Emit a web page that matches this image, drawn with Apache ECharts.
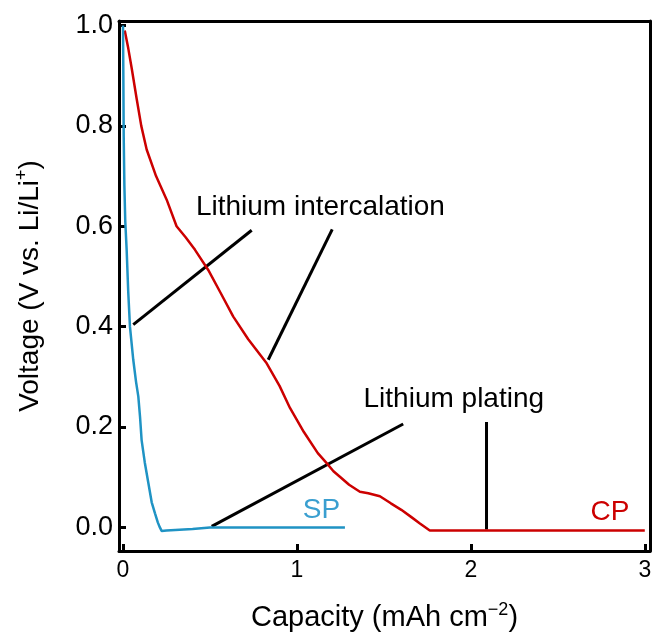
<!DOCTYPE html>
<html><head><meta charset="utf-8">
<script src="https://cdn.jsdelivr.net/npm/echarts@6/dist/echarts.min.js"></script>
<style>html,body{margin:0;padding:0;background:#fff}#c{width:657px;height:639px}</style>
</head><body><div id="c"></div>
<script>
// Data
var spX = [0.0, 0.002, 0.004, 0.008, 0.013, 0.021, 0.03, 0.04, 0.059, 0.075, 0.088, 0.098, 0.107, 0.125, 0.146, 0.165, 0.184, 0.2, 0.212, 0.222, 0.25, 0.3, 0.4, 0.5, 0.7, 0.9, 1.1, 1.276];
var spY = [1.0, 0.9, 0.78, 0.68, 0.61, 0.553, 0.47, 0.40, 0.334, 0.29, 0.261, 0.22, 0.174, 0.13, 0.088, 0.05, 0.028, 0.01, 0.0, -0.007, -0.006, -0.005, -0.003, 0.0, 0.0, 0.0, 0.0, 0.0];
var cpX = [0.01, 0.03, 0.05, 0.079, 0.105, 0.136, 0.19, 0.251, 0.308, 0.36, 0.414, 0.49, 0.56, 0.634, 0.72, 0.826, 0.9, 0.96, 1.04, 1.12, 1.171, 1.21, 1.247, 1.3, 1.362, 1.41, 1.477, 1.54, 1.6, 1.66, 1.707, 1.764, 2.0, 2.5, 3.0];
var cpY = [0.99, 0.955, 0.915, 0.853, 0.80, 0.753, 0.70, 0.653, 0.600, 0.578, 0.553, 0.513, 0.468, 0.42, 0.375, 0.327, 0.282, 0.238, 0.19, 0.148, 0.128, 0.112, 0.101, 0.085, 0.071, 0.068, 0.062, 0.048, 0.035, 0.02, 0.008, -0.006, -0.006, -0.006, -0.006];
var xTicks = [0, 1, 2, 3];
var yTicks = [0.0, 0.2, 0.4, 0.6, 0.8, 1.0];
// annotation leader lines: [x1, y1, x2, y2]
var leader1 = [0.059, 0.404, 0.74, 0.592];
var leader2 = [0.835, 0.334, 1.203, 0.594];
var leader3 = [0.51, 0.002, 1.611, 0.206];
var leader4 = [2.09, -0.004, 2.09, 0.21];
var labelTexts = ['Lithium intercalation', 'Lithium plating', 'SP', 'CP'];
var labelPos = [[1.135, 0.638], [1.902, 0.255], [1.141, 0.035], [2.8, 0.031]];

function pairs(xs, ys) { return xs.map(function (x, i) { return [x, ys[i]]; }); }
function seg(a) { return [[a[0], a[1]], [a[2], a[3]]]; }

var FONT = '"Liberation Sans", Arial, Helvetica, sans-serif';
var RED = '#cc0000', BLUE = '#1f93c4', BLUE_TXT = '#3a9fd0';
var labelColors = ['#000', '#000', BLUE_TXT, RED];

var chart = echarts.init(document.getElementById('c'), null, {renderer: 'canvas'});
var leaderSeries = [leader1, leader2, leader3, leader4].map(function (l) {
  return {type: 'line', data: seg(l), symbol: 'none', silent: true, z: 3,
          lineStyle: {color: '#000', width: 3}};
});

chart.setOption({
  animation: false,
  backgroundColor: '#fff',
  grid: {left: 119, right: 7, top: 21, bottom: 88},
  xAxis: [{
    type: 'value', min: -0.023, max: 3.03,
    name: 'Capacity (mAh cm{sup|\u22122})', nameLocation: 'middle', nameGap: 50,
    nameMoveOverlap: false,
    nameTextStyle: {fontSize: 29, fontFamily: FONT, color: '#000',
      rich: {sup: {fontSize: 18, fontFamily: FONT, color: '#000', padding: [0, 0, 16, 0]}}},
    axisLine: {onZero: false, lineStyle: {color: '#000', width: 3}},
    axisTick: {show: true, inside: true, length: 7, customValues: xTicks, lineStyle: {width: 3, color: '#000'}},
    axisLabel: {customValues: xTicks, fontSize: 23, fontFamily: FONT, color: '#000', margin: 8,
      formatter: function (v) { return String(v); }},
    splitLine: {show: false}
  }, {
    type: 'value', position: 'top', min: -0.023, max: 3.03,
    axisLine: {show: true, onZero: false, lineStyle: {color: '#000', width: 3}},
    axisTick: {show: false}, axisLabel: {show: false}, splitLine: {show: false}
  }],
  yAxis: [{
    type: 'value', min: -0.047, max: 1.009,
    name: 'Voltage (V vs. Li/Li{sup|+})', nameLocation: 'middle', nameGap: 72,
    nameMoveOverlap: false,
    nameTextStyle: {fontSize: 28, fontFamily: FONT, color: '#000',
      rich: {sup: {fontSize: 18, fontFamily: FONT, color: '#000', padding: [0, 0, 16, 0]}}},
    axisLine: {show: true, onZero: false, lineStyle: {color: '#000', width: 3}},
    axisTick: {show: true, inside: true, length: 7, customValues: yTicks, lineStyle: {width: 3, color: '#000'}},
    axisLabel: {customValues: yTicks, fontSize: 27, fontFamily: FONT, color: '#000', margin: 6,
      formatter: function (v) { return v.toFixed(1); }},
    splitLine: {show: false}
  }, {
    type: 'value', position: 'right', min: -0.047, max: 1.009,
    axisLine: {show: true, onZero: false, lineStyle: {color: '#000', width: 3}},
    axisTick: {show: false}, axisLabel: {show: false}, splitLine: {show: false}
  }],
  series: [
    {type: 'line', data: pairs(cpX, cpY), symbol: 'none', z: 4,
     lineStyle: {color: RED, width: 2.5}},
    {type: 'line', data: pairs(spX, spY), symbol: 'none', z: 4,
     lineStyle: {color: BLUE, width: 2.5}}
  ].concat(leaderSeries)
});

// annotation texts placed through the chart's own coordinate system
var texts = labelTexts.map(function (t, i) {
  var p = chart.convertToPixel({xAxisIndex: 0, yAxisIndex: 0}, labelPos[i]);
  return {type: 'text', x: p[0], y: p[1], z: 10,
          style: {text: t, fill: labelColors[i], font: '28px ' + FONT,
                  textAlign: 'center', textVerticalAlign: 'middle'}};
});
chart.setOption({graphic: texts});
</script></body></html>
